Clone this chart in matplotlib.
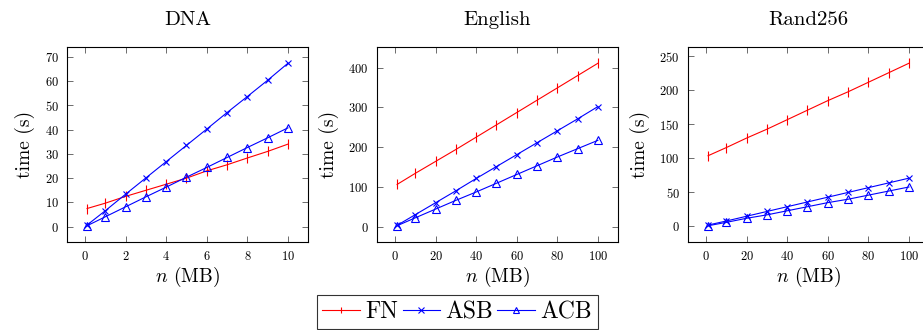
import matplotlib
matplotlib.use('Agg')
import matplotlib.pyplot as plt

# data
titles = ['DNA', 'English', 'Rand256']

dna_n = [0.1, 1, 2, 3, 4, 5, 6, 7, 8, 9, 10]
dna_fn = [7.5, 9.7, 12.5, 15.0, 17.5, 20.0, 23.0, 25.5, 28.3, 31.0, 34.0]
dna_asb = [0.7, 6.6, 13.4, 20.1, 26.8, 33.5, 40.2, 47.0, 53.6, 60.3, 67.3]
dna_acb = [0.4, 4.1, 8.2, 12.3, 16.3, 20.4, 24.4, 28.5, 32.6, 36.6, 40.7]

eng_n = [1, 10, 20, 30, 40, 50, 60, 70, 80, 90, 100]
eng_fn = [106, 134, 164, 194, 225, 256, 287, 318, 349, 380, 411]
eng_asb = [3, 30, 60, 90, 121, 151, 181, 211, 241, 271, 302]
eng_acb = [2, 22, 44, 66, 87, 109, 131, 153, 175, 196, 217]

rnd_n = [1, 10, 20, 30, 40, 50, 60, 70, 80, 90, 100]
rnd_fn = [104, 116, 130, 143, 157, 171, 185, 198, 212, 226, 240]
rnd_asb = [2, 8, 15, 22, 29, 36, 43, 50, 57, 64, 71]
rnd_acb = [1, 6, 12, 17, 23, 29, 35, 40, 46, 52, 58]

xticks = [[0, 2, 4, 6, 8, 10], [0, 20, 40, 60, 80, 100], [0, 20, 40, 60, 80, 100]]
yticks = [[0, 10, 20, 30, 40, 50, 60, 70],
          [0, 100, 200, 300, 400],
          [0, 50, 100, 150, 200, 250]]

plt.rcParams['font.family'] = ['cmr10', 'DejaVu Serif']
plt.rcParams['mathtext.fontset'] = 'cm'
plt.rcParams['axes.formatter.use_mathtext'] = True

fig = plt.figure(figsize=(9.23, 3.3), dpi=100)

lefts = [67, 377, 688]
axes_w = 241
datasets = [
    (dna_n, dna_fn, dna_asb, dna_acb),
    (eng_n, eng_fn, eng_asb, eng_acb),
    (rnd_n, rnd_fn, rnd_asb, rnd_acb),
]

handles = None
for i, (xs, fn, asb, acb) in enumerate(datasets):
    ax = fig.add_axes([lefts[i] / 923, 1 - 242 / 330, axes_w / 923, 195 / 330])
    h1, = ax.plot(xs, fn, color='#ff0000', lw=0.8, marker='|', ms=6.5, mew=0.8, label='FN')
    h2, = ax.plot(xs, asb, color='#0000ff', lw=0.8, marker='x', ms=5, mew=0.8, label='ASB')
    h3, = ax.plot(xs, acb, color='#0000ff', lw=0.8, marker='^', ms=6, mew=0.8,
                  mfc='none', label='ACB')
    handles = [h1, h2, h3]

    # pgfplots style: enlarge limits by 10 %
    allx = list(xs)
    ally = list(fn) + list(asb) + list(acb)
    dx = (max(allx) - min(allx)) * 0.1
    dy = (max(ally) - min(ally)) * 0.1
    ax.set_xlim(min(allx) - dx, max(allx) + dx)
    ax.set_ylim(min(ally) - dy, max(ally) + dy)

    ax.set_xticks(xticks[i])
    ax.set_yticks(yticks[i])
    ax.tick_params(direction='in', top=True, right=True, length=4, width=0.6,
                   color='#555555', labelsize=9, pad=6)
    for sp in ax.spines.values():
        sp.set_linewidth(0.8)

    ax.set_title(titles[i], fontsize=15, pad=16)
    ax.set_xlabel(r'$n$ (MB)', fontsize=14, labelpad=1)
    ax.set_ylabel('time (s)', fontsize=14, labelpad=7)

leg = fig.legend(handles, ['FN', 'ASB', 'ACB'], loc='center', ncol=3,
                 bbox_to_anchor=(457 / 923, 1 - 312 / 330), fontsize=17,
                 frameon=True, fancybox=False, edgecolor='black',
                 handlelength=1.6, handletextpad=0.2, columnspacing=0.2,
                 borderpad=0.25, borderaxespad=0)
leg.get_frame().set_linewidth(0.8)
for lh in leg.legend_handles:
    lh.set_markersize(4.5)

fig.savefig('out.png', dpi=100)
